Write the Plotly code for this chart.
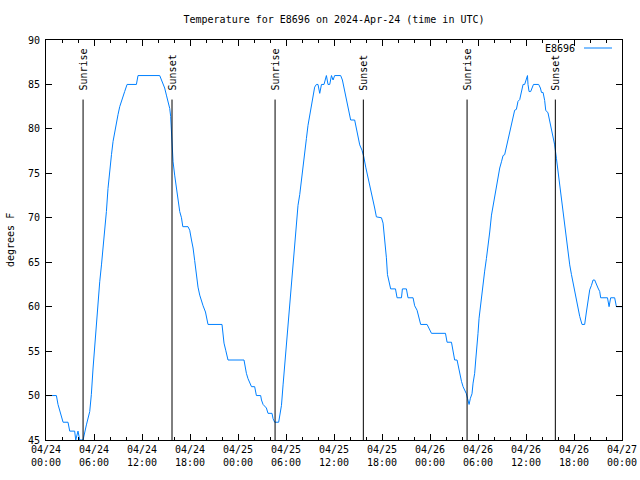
import plotly.graph_objects as go

# ---- data ----
times = [
 "2024-04-24 00:00","2024-04-24 01:18","2024-04-24 01:30","2024-04-24 01:48","2024-04-24 02:08","2024-04-24 02:45",
 "2024-04-24 02:58","2024-04-24 03:35","2024-04-24 03:43","2024-04-24 04:00","2024-04-24 04:13","2024-04-24 04:38",
 "2024-04-24 04:50","2024-04-24 05:03","2024-04-24 05:28","2024-04-24 05:40","2024-04-24 05:53","2024-04-24 06:05",
 "2024-04-24 06:18","2024-04-24 06:30","2024-04-24 06:43","2024-04-24 06:56","2024-04-24 07:08","2024-04-24 07:20",
 "2024-04-24 07:33","2024-04-24 07:45","2024-04-24 07:58","2024-04-24 08:11","2024-04-24 08:23","2024-04-24 08:35",
 "2024-04-24 08:48","2024-04-24 09:00","2024-04-24 09:13","2024-04-24 09:26","2024-04-24 09:38","2024-04-24 09:50",
 "2024-04-24 10:08","2024-04-24 11:18","2024-04-24 11:30","2024-04-24 14:13","2024-04-24 14:26","2024-04-24 14:38",
 "2024-04-24 14:50","2024-04-24 15:03","2024-04-24 15:15","2024-04-24 15:28","2024-04-24 15:35","2024-04-24 15:41",
 "2024-04-24 15:45","2024-04-24 15:53","2024-04-24 16:05","2024-04-24 16:18","2024-04-24 16:30","2024-04-24 16:43",
 "2024-04-24 16:56","2024-04-24 17:06","2024-04-24 17:45","2024-04-24 17:58","2024-04-24 18:11","2024-04-24 18:23",
 "2024-04-24 18:35","2024-04-24 18:48","2024-04-24 19:00","2024-04-24 19:13","2024-04-24 19:26","2024-04-24 19:38",
 "2024-04-24 19:56","2024-04-24 20:08","2024-04-24 20:15","2024-04-24 22:00","2024-04-24 22:08","2024-04-24 22:15",
 "2024-04-24 22:28","2024-04-24 22:45",
 "2024-04-25 00:45","2024-04-25 00:50","2024-04-25 01:03","2024-04-25 01:15","2024-04-25 01:41","2024-04-25 02:05",
 "2024-04-25 02:18","2024-04-25 02:50","2024-04-25 02:56","2024-04-25 03:08","2024-04-25 03:33","2024-04-25 03:45",
 "2024-04-25 04:15","2024-04-25 04:23","2024-04-25 04:35","2024-04-25 05:05","2024-04-25 05:13","2024-04-25 05:26",
 "2024-04-25 05:38","2024-04-25 05:50","2024-04-25 06:03","2024-04-25 06:15","2024-04-25 06:28","2024-04-25 06:41",
 "2024-04-25 06:53","2024-04-25 07:05","2024-04-25 07:18","2024-04-25 07:30","2024-04-25 07:43","2024-04-25 07:56",
 "2024-04-25 08:08","2024-04-25 08:20","2024-04-25 08:33","2024-04-25 08:45","2024-04-25 08:58","2024-04-25 09:11",
 "2024-04-25 09:23","2024-04-25 09:35","2024-04-25 09:48","2024-04-25 10:00","2024-04-25 10:13","2024-04-25 10:26",
 "2024-04-25 10:45","2024-04-25 10:56","2024-04-25 11:03","2024-04-25 11:15","2024-04-25 11:28","2024-04-25 11:41",
 "2024-04-25 11:53","2024-04-25 12:05","2024-04-25 12:50","2024-04-25 13:03","2024-04-25 13:15","2024-04-25 13:28",
 "2024-04-25 13:41","2024-04-25 13:53","2024-04-25 14:05","2024-04-25 14:35","2024-04-25 14:48","2024-04-25 15:00",
 "2024-04-25 15:13","2024-04-25 15:30","2024-04-25 15:43","2024-04-25 15:58","2024-04-25 16:15","2024-04-25 16:28",
 "2024-04-25 16:41","2024-04-25 16:53","2024-04-25 17:05","2024-04-25 17:18","2024-04-25 17:56","2024-04-25 18:08",
 "2024-04-25 18:15","2024-04-25 18:23","2024-04-25 18:33","2024-04-25 18:41","2024-04-25 18:53","2024-04-25 19:05",
 "2024-04-25 19:41","2024-04-25 19:53","2024-04-25 20:26","2024-04-25 20:33","2024-04-25 21:03","2024-04-25 21:15",
 "2024-04-25 21:53","2024-04-25 22:05","2024-04-25 22:23","2024-04-25 22:35","2024-04-25 22:50","2024-04-25 23:38",
 "2024-04-25 23:53",
 "2024-04-26 00:11","2024-04-26 01:56","2024-04-26 02:08","2024-04-26 02:41","2024-04-26 02:53","2024-04-26 03:05",
 "2024-04-26 03:23","2024-04-26 03:33","2024-04-26 03:43","2024-04-26 03:56","2024-04-26 04:08","2024-04-26 04:20",
 "2024-04-26 04:33","2024-04-26 04:41","2024-04-26 04:53","2024-04-26 05:03","2024-04-26 05:15","2024-04-26 05:23",
 "2024-04-26 05:35","2024-04-26 05:43","2024-04-26 05:53","2024-04-26 06:00","2024-04-26 06:08","2024-04-26 06:20",
 "2024-04-26 06:28","2024-04-26 06:38","2024-04-26 06:50","2024-04-26 07:03","2024-04-26 07:15","2024-04-26 07:28",
 "2024-04-26 07:41","2024-04-26 07:53","2024-04-26 08:05","2024-04-26 08:18","2024-04-26 08:30","2024-04-26 08:43",
 "2024-04-26 08:56","2024-04-26 09:08","2024-04-26 09:20","2024-04-26 09:33","2024-04-26 09:45","2024-04-26 09:58",
 "2024-04-26 10:11","2024-04-26 10:23","2024-04-26 10:35","2024-04-26 10:48","2024-04-26 11:00","2024-04-26 11:13",
 "2024-04-26 11:26","2024-04-26 11:38","2024-04-26 11:50","2024-04-26 12:03","2024-04-26 12:11","2024-04-26 12:15",
 "2024-04-26 12:23","2024-04-26 12:35","2024-04-26 12:45","2024-04-26 12:56","2024-04-26 13:35","2024-04-26 13:48",
 "2024-04-26 13:56","2024-04-26 14:08","2024-04-26 14:20","2024-04-26 14:28","2024-04-26 14:45","2024-04-26 14:58",
 "2024-04-26 15:11","2024-04-26 15:23","2024-04-26 15:35","2024-04-26 15:48","2024-04-26 16:00","2024-04-26 16:13",
 "2024-04-26 16:26","2024-04-26 16:38","2024-04-26 16:50","2024-04-26 17:03","2024-04-26 17:15","2024-04-26 17:28",
 "2024-04-26 17:41","2024-04-26 17:53","2024-04-26 18:05","2024-04-26 18:18","2024-04-26 18:30","2024-04-26 18:43",
 "2024-04-26 19:00","2024-04-26 19:20","2024-04-26 19:33","2024-04-26 19:45","2024-04-26 19:58","2024-04-26 20:11",
 "2024-04-26 20:23","2024-04-26 20:35","2024-04-26 20:48","2024-04-26 21:00","2024-04-26 21:13","2024-04-26 21:20",
 "2024-04-26 22:11","2024-04-26 22:23","2024-04-26 22:35","2024-04-26 23:05","2024-04-26 23:18","2024-04-27 00:00",
]
temps = [
 50,50,49,48,47,47, 46,46,45,46,45,45, 46,46.7,48.2,50.1,53.1,55.7,
 58.3,60.6,62.8,64.7,66.4,68.4, 70.7,73.3,75.6,77.1,78.6,79.7,
 80.6,81.6,82.5,83.2,83.6,84.2, 85,85,86,86,85.5,85,
 84.6,83.8,83.1,82.3,81.4,79.7, 78.2,76.3,74.8,73.3,72.2,70.7,
 70,69,69,68.6,67.5,66.6, 65.2,63.4,62.2,61.3,60.6,60.1,
 59.4,58.5,58,58,57,55.9, 55.1,54,
 54,53.4,52.5,51.9,51,51, 50,50,49.5,49,48.6,48,
 48,47.4,47,47,47.8,48.9, 51.2,53.4,55.7,58.3,60.2,62.8,
 65.1,67.7,69.6,71.4,72.6,74.4, 75.9,77.8,78.9,80.4,81.6,82.5,
 83.6,84.7,85,85,84,85, 85,85.5,86,85,85,86,
 85.5,86,86,85.5,84.6,83.6, 82.9,81.9,81,81,79.9,78.9,
 78.2,77.6,76.9,75.7,74.6,73.7, 72.7,71.8,71.1,70.1,70,69.4,
 68.4,67.3,65.5,63.6,62.6,62, 62,61,61,62,62,61,
 61,60.1,59.6,58.9,58,58, 57.5,
 57,57,56,56,54.9,54, 54,53.2,52.5,51.6,51,50.6,
 50.2,49.7,49,49.7,50.2,51.4, 52.5,54,55.5,57,58.7,60.4,
 61.5,62.8,64,65.4,66.7,68.4, 70.3,71.4,72.4,73.3,74.4,75.6,
 76.3,77,77.1,78,78.9,79.9, 80.6,81.6,82.1,82.2,83.1,83.3,
 84.2,85,85,85.7,86,85, 84.2,84.2,84.7,85,85,84.6,
 84.1,84.1,83.2,82.1,81.8,80.8, 79.9,79.1,78.2,76.7,75.2,73.7,
 72.2,70.7,68.8,67.3,65.8,64.7, 63.6,62.6,61.7,60.6,59.6,58.9,
 58,58,59.4,60.9,61.9,62.4, 63,63,62.4,62.1,61.7,61,
 61,60,61,61,60,60,
]
sunrise = ["2024-04-24 04:38", "2024-04-25 04:38", "2024-04-26 04:38"]
sunset = ["2024-04-24 15:45", "2024-04-25 15:40", "2024-04-26 15:40"]
series_name = "E8696"
title_text = "Temperature for E8696 on 2024-Apr-24 (time in UTC)"
y_label = "degrees F"
x_range = ["2024-04-24 00:00", "2024-04-27 00:00"]
y_range = [45, 90]

FONT = "DejaVu Sans Mono"
BLUE = "rgb(0,128,255)"

fig = go.Figure()
fig.add_trace(go.Scatter(x=times, y=temps, mode="lines", name=series_name,
                         line=dict(color=BLUE, width=1), showlegend=False))

# sunrise / sunset markers
marker_top = 83.3
for t, lab in [(s, "Sunrise") for s in sunrise] + [(s, "Sunset") for s in sunset]:
    fig.add_shape(type="line", xref="x", yref="y", x0=t, x1=t, y0=y_range[0], y1=marker_top,
                  line=dict(color="black", width=1))
    fig.add_annotation(x=t, y=84.1, xref="x", yref="y", text=lab, textangle=-90,
                       showarrow=False, xanchor="center", yanchor="bottom",
                       font=dict(family=FONT, size=10, color="black"))

# legend (text left of line sample)
fig.add_annotation(xref="paper", yref="paper", x=(577 - 46) / 576, y=(440 - 48) / 400,
                   text=series_name, showarrow=False, xanchor="right", yanchor="middle",
                   font=dict(family=FONT, size=10, color="black"))
fig.add_shape(type="line", xref="paper", yref="paper",
              x0=(584 - 46) / 576, x1=(612 - 46) / 576,
              y0=(440 - 48) / 400, y1=(440 - 48) / 400,
              line=dict(color=BLUE, width=1))

# y axis title
fig.add_annotation(xref="paper", yref="paper", x=0, xshift=-36, y=0.5, text=y_label,
                   textangle=-90, showarrow=False, xanchor="center", yanchor="middle",
                   font=dict(family=FONT, size=10, color="black"))

SIX_H = 6 * 3600 * 1000
fig.update_layout(
    width=640, height=480,
    margin=dict(l=46, r=18, t=40, b=40, autoexpand=False),
    paper_bgcolor="white", plot_bgcolor="white",
    font=dict(family=FONT, size=10, color="black"),
    title=dict(text=title_text, x=(334) / 640, xref="container", xanchor="center",
               y=(480 - 19) / 480, yref="container", yanchor="middle",
               font=dict(family=FONT, size=10, color="black")),
    xaxis=dict(type="date", range=x_range, tick0=x_range[0], dtick=SIX_H, automargin=False,
               tickformat="%m/%d<br>%H:%M", ticks="inside", ticklen=6, tickcolor="black",
               showline=True, linecolor="black", linewidth=1, mirror="ticks",
               showgrid=False, zeroline=False,
               minor=dict(dtick=2 * 3600 * 1000, tick0=x_range[0], ticks="inside",
                          ticklen=3, tickcolor="black", showgrid=False),
               tickfont=dict(family=FONT, size=10, color="black")),
    yaxis=dict(range=y_range, dtick=5, tick0=45, ticks="inside", ticklen=6, tickcolor="black",
               automargin=False, ticklabelstandoff=3,
               showline=True, linecolor="black", linewidth=1, mirror="ticks",
               showgrid=False, zeroline=False,
               tickfont=dict(family=FONT, size=10, color="black")),
)

fig.write_html("out.html", config={"displayModeBar": False},
               post_script="document.body.style.margin='0px';document.body.style.padding='0px';")
